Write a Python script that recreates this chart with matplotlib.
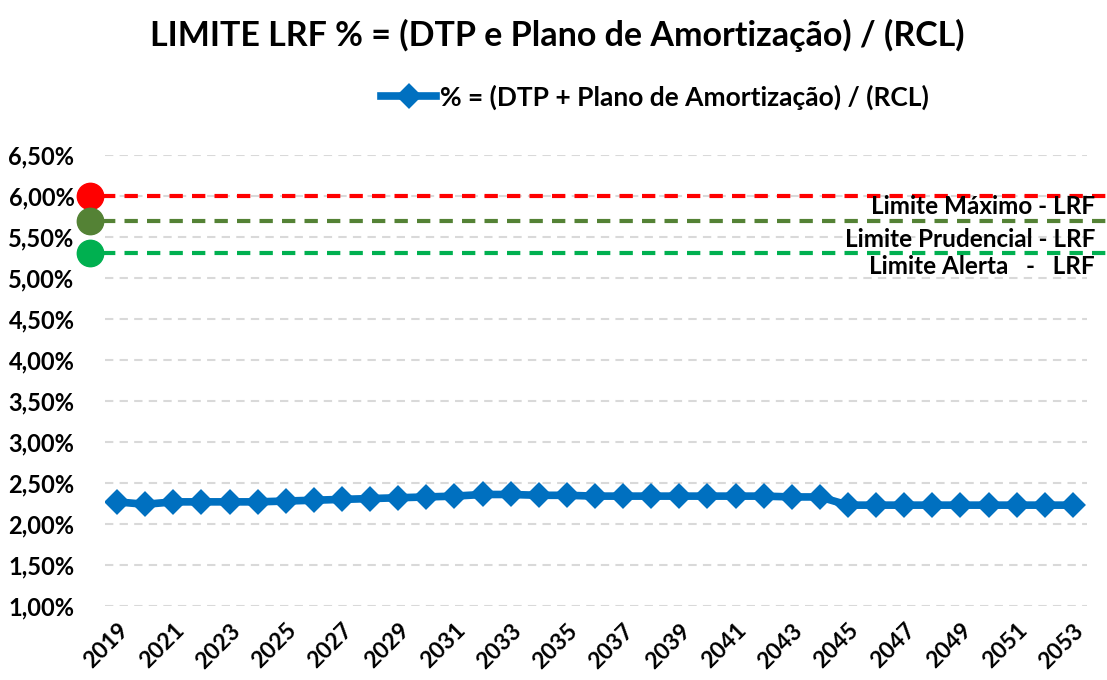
import matplotlib
matplotlib.use("Agg")
import matplotlib.pyplot as plt
import matplotlib.transforms as mtrans
from matplotlib.ticker import FuncFormatter, MultipleLocator

years = list(range(2019, 2054))
values = [2.27, 2.24, 2.27, 2.27, 2.27, 2.27, 2.28, 2.29, 2.30, 2.31, 2.32, 2.33,
          2.34, 2.36, 2.36, 2.35, 2.35, 2.34, 2.34, 2.34, 2.34, 2.34, 2.34, 2.34,
          2.33, 2.33, 2.23, 2.23, 2.23, 2.23, 2.23, 2.23, 2.23, 2.23, 2.23]
limit_values = [6.00, 5.70, 5.31]
limit_colors = ["#ff0000", "#548235", "#00b050"]
limit_labels = ["Limite Máximo - LRF", "Limite Prudencial - LRF", "Limite Alerta   -   LRF"]
title = "LIMITE LRF % = (DTP e Plano de Amortização) / (RCL)"
series_label = "% = (DTP + Plano de Amortização) / (RCL)"

plt.rcParams['font.family'] = ['Lato', 'DejaVu Sans']

W, H = 1107, 680
fig = plt.figure(figsize=(W/100, H/100), dpi=100)
ax = fig.add_axes([105/W, 1-606/H, (1087-105)/W, (606-155)/H])

ax.set_ylim(1.0, 6.5)
ax.set_xlim(2018.57, 2053.5)
ax.yaxis.set_major_locator(MultipleLocator(0.5))
ax.yaxis.set_major_formatter(FuncFormatter(lambda v, p: f"{v:.2f}%".replace('.', ',')))
ax.set_xticks(years[::2])
ax.set_xticklabels([str(y) for y in years[::2]], rotation=45, ha='right',
                   rotation_mode='anchor', fontsize=16.5, fontweight='bold')
for t in ax.get_yticklabels():
    t.set_fontsize(17)
    t.set_fontweight('bold')
ax.tick_params(axis='y', length=0, pad=22)
ax.tick_params(axis='x', length=0, pad=10)
ax.grid(axis='y', color='#d9d9d9', linestyle=(0, (4, 3)), linewidth=1.5)
ax.set_axisbelow(True)
for s in ax.spines.values():
    s.set_visible(False)

line, = ax.plot(years, values, color='#0070c0', linewidth=5.5, marker='D',
                markersize=10.5, markeredgewidth=3, markeredgecolor='#0070c0',
                solid_joinstyle='round', label=series_label, zorder=3)

# limit lines
for v, c in zip(limit_values, limit_colors):
    ax.plot([2018.45, 2054.3], [v, v], color=c, linestyle=(0, (3.2, 2.2)),
            linewidth=3, clip_on=False, zorder=2)
    ax.plot([2018.05], [v], marker='o', markersize=19, color=c, clip_on=False,
            linestyle='none', zorder=4)

text_y = [5.87, 5.47, 5.14]
trans = mtrans.blended_transform_factory(fig.transFigure, ax.transData)
for lab, ty in zip(limit_labels, text_y):
    ax.text(1095/W, ty, lab, transform=trans, ha='right', va='center',
            fontsize=17.5, fontweight='bold', clip_on=False)

fig.text(557/W, 1-35/H, title, ha='center', va='center', fontsize=24.5, fontweight='bold')

leg = fig.legend(handles=[line], loc='center', bbox_to_anchor=(655/W, 1-97/H),
                 frameon=False, handlelength=2.1, handletextpad=0.15,
                 prop={'weight': 'bold', 'size': 19})

fig.savefig('out.png', dpi=100)
